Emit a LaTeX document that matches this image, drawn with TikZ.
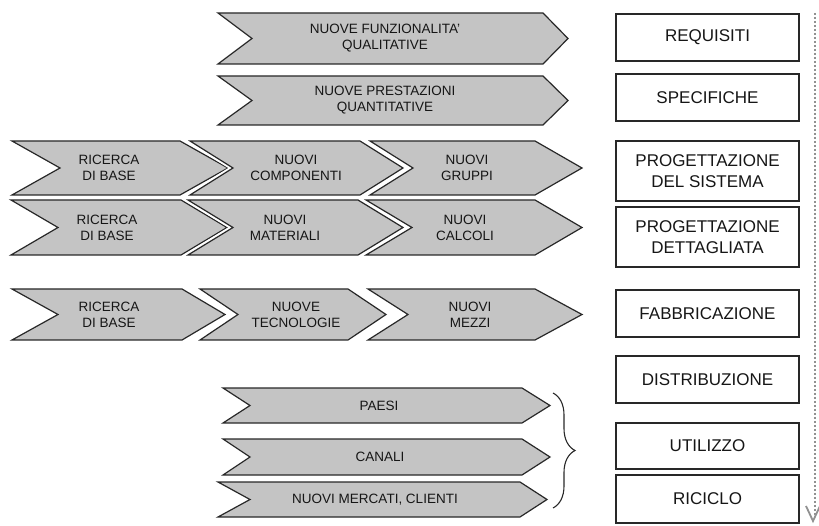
\documentclass[tikz,border=0pt]{standalone}
\usepackage{fontspec}
\setmainfont{Liberation Sans}
\usetikzlibrary{decorations.pathreplacing}
\definecolor{chfill}{RGB}{196,196,196}
\definecolor{txt}{RGB}{22,22,22}
\definecolor{edge}{RGB}{40,40,40}
\definecolor{dotc}{RGB}{145,145,145}
\tikzset{
  chev/.style={fill=chfill, draw=edge, line width=1.2pt, line join=miter,
    preaction={draw=white, line width=5pt, line join=miter}},
  chtext/.style={align=center, text=txt, inner sep=0pt,
    font=\fontsize{13.5}{16}\selectfont},
  stagebox/.style={draw=edge, line width=1.3pt, align=center, text=txt,
    inner sep=0pt, minimum width=183pt,
    font=\fontsize{17}{21}\selectfont},
  timeline/.style={dotc, line width=1.8pt, dash pattern=on 1.8pt off 2.2pt},
  vhead/.style={dotc, line width=1.8pt, line join=miter},
  bracel/.style={draw=edge, line width=1.1pt, decorate,
    decoration={brace, amplitude=22pt, aspect=0.5}}
}
% name, xl, xn, xs, xt, yt, yb, textx, text
\newcommand{\chevron}[9]{%
  \draw[chev] (#2,#6) -- (#4,#6) -- (#5,{(#6+#7)/2}) -- (#4,#7) -- (#2,#7) -- (#3,{(#6+#7)/2}) -- cycle;
  \node[chtext] (#1) at (#8,{(#6+#7)/2}) {#9};
}
% name, ytop, ybot, text
\newcommand{\stage}[4]{%
  \node[stagebox, minimum height={(#3-#2)*1pt}] (#1) at (707.5,{(#2+#3)/2}) {#4};
}
\begin{document}
\begin{tikzpicture}[x=1pt, y=-1pt]
\useasboundingbox (0,0) rectangle (819,526);
\fill[white] (0,0) rectangle (819,526);

% top chevrons
\chevron{funz}{218}{252}{543}{568}{13}{64}{385}{NUOVE FUNZIONALITA'\\QUALITATIVE}
\chevron{prest}{218}{252}{543}{568}{76}{125}{385}{NUOVE PRESTAZIONI\\QUANTITATIVE}

% row 3
\chevron{rba}{12}{60}{180}{228}{141}{195}{109}{RICERCA\\DI BASE}
\chevron{comp}{190}{233}{360}{403}{141}{195}{296}{NUOVI\\COMPONENTI}
\chevron{grup}{370}{413}{535}{582}{141}{195}{467}{NUOVI\\GRUPPI}

% row 4
\chevron{rbb}{11}{58}{181}{227}{200}{255}{107}{RICERCA\\DI BASE}
\chevron{mat}{188}{233}{358}{403}{200}{255}{285}{NUOVI\\MATERIALI}
\chevron{calc}{366}{412}{535}{582}{200}{255}{465}{NUOVI\\CALCOLI}

% row 5
\chevron{rbc}{12}{58}{182}{225}{289}{340}{109}{RICERCA\\DI BASE}
\chevron{tecn}{200}{238}{348}{386}{289}{340}{296}{NUOVE\\TECNOLOGIE}
\chevron{mezz}{368}{408}{535}{582}{289}{340}{470}{NUOVI\\MEZZI}

% market chevrons
\chevron{paesi}{223}{250}{522}{550}{388}{423}{379}{PAESI}
\chevron{canali}{223}{250}{522}{550}{439}{475}{380}{CANALI}
\chevron{merc}{218}{250}{520}{547}{482}{517}{375}{NUOVI MERCATI, CLIENTI}

% brace
\coordinate (btop) at (553,393);
\coordinate (bbot) at (553,508);
\draw[bracel] (btop) -- (bbot);

% stages
\stage{req}{14}{61}{REQUISITI}
\stage{spec}{74}{121}{SPECIFICHE}
\stage{sist}{141}{201}{PROGETTAZIONE\\DEL SISTEMA}
\stage{dett}{207}{267}{PROGETTAZIONE\\DETTAGLIATA}
\stage{fabb}{290}{337}{FABBRICAZIONE}
\stage{distr}{356}{403}{DISTRIBUZIONE}
\stage{util}{423}{469}{UTILIZZO}
\stage{ric}{475}{523}{RICICLO}

% timeline
\coordinate (ttop) at (815,13);
\coordinate (tbot) at (815,516);
\coordinate (vl) at (806,506);
\coordinate (vtip) at (813,521);
\coordinate (vr) at (820,506);
\draw[timeline] (ttop) -- (tbot);
\draw[vhead] (vl) -- (vtip) -- (vr);
\end{tikzpicture}
\end{document}
